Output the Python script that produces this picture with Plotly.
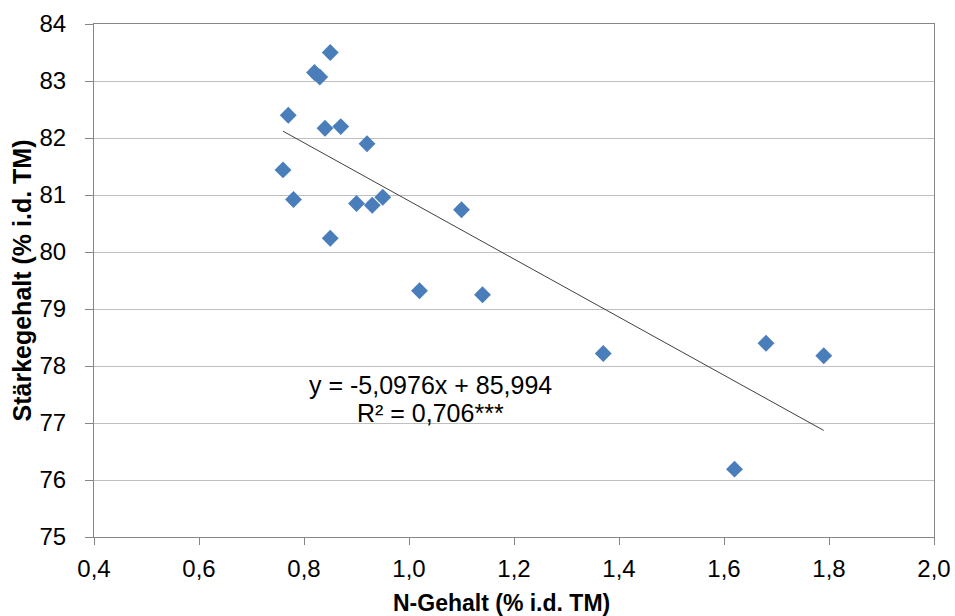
import plotly.graph_objects as go

# Data
n_gehalt = [0.85, 0.82, 0.83, 0.77, 0.84, 0.87, 0.92, 0.76, 0.78, 0.90,
            0.93, 0.95, 0.85, 1.10, 1.02, 1.14, 1.37, 1.68, 1.79, 1.62]
staerke = [83.50, 83.15, 83.07, 82.40, 82.17, 82.20, 81.90, 81.44, 80.92, 80.85,
           80.82, 80.96, 80.24, 80.74, 79.32, 79.25, 78.22, 78.40, 78.18, 76.19]

slope = -5.0976
intercept = 85.994
eq_text = "y = -5,0976x + 85,994"
r2_text = "R² = 0,706***"
x_title = "N-Gehalt (% i.d. TM)"
y_title = "Stärkegehalt (% i.d. TM)"

x_ticks = [0.4, 0.6, 0.8, 1.0, 1.2, 1.4, 1.6, 1.8, 2.0]
x_tick_labels = ["0,4", "0,6", "0,8", "1,0", "1,2", "1,4", "1,6", "1,8", "2,0"]
y_ticks = [75, 76, 77, 78, 79, 80, 81, 82, 83, 84]

x_min, x_max = min(n_gehalt), max(n_gehalt)
trend_x = [x_min, x_max]
trend_y = [slope * v + intercept for v in trend_x]

font_family = "Liberation Sans, Arial, sans-serif"

fig = go.Figure()
fig.add_trace(go.Scatter(
    x=trend_x, y=trend_y, mode="lines",
    line=dict(color="#404040", width=1), hoverinfo="skip", showlegend=False))
fig.add_trace(go.Scatter(
    x=n_gehalt, y=staerke, mode="markers",
    marker=dict(symbol="diamond", size=13, color="#4A7EBB"),
    showlegend=False))

fig.add_annotation(x=1.04, y=77.67, text=eq_text, showarrow=False,
                   font=dict(size=25, color="#000000", family=font_family),
                   xanchor="center", yanchor="middle")
fig.add_annotation(x=1.04, y=77.18, text=r2_text, showarrow=False,
                   font=dict(size=25, color="#000000", family=font_family),
                   xanchor="center", yanchor="middle")

# axis titles
fig.add_annotation(xref="paper", yref="paper", x=(501 - 94) / 840, y=-(603 - 537) / 513,
                   text="<b>" + x_title + "</b>", showarrow=False,
                   font=dict(size=23, color="#000000", family=font_family),
                   xanchor="center", yanchor="middle")
fig.add_annotation(xref="paper", yref="paper", x=(21 - 94) / 840, y=0.5,
                   text="<b>" + y_title + "</b>", showarrow=False, textangle=-90,
                   font=dict(size=25, color="#000000", family=font_family),
                   xanchor="center", yanchor="middle")

fig.update_layout(
    width=955, height=616,
    margin=dict(l=94, r=21, t=24, b=79, autoexpand=False),
    paper_bgcolor="white", plot_bgcolor="white",
    font=dict(family=font_family, size=24, color="#000000"),
    xaxis=dict(
        range=[0.4, 2.0], tickvals=x_ticks, ticktext=x_tick_labels,
        showgrid=False, zeroline=False, automargin=False,
        showline=True, linecolor="#868686", linewidth=1, mirror=True,
        ticks="outside", ticklen=7, tickcolor="#868686",
        tickfont=dict(size=24), ticklabelstandoff=3,
    ),
    yaxis=dict(
        range=[75, 84], tickvals=y_ticks,
        showgrid=True, gridcolor="#BFBFBF", gridwidth=1, zeroline=False,
        automargin=False,
        showline=True, linecolor="#868686", linewidth=1, mirror=True,
        ticks="outside", ticklen=8, tickcolor="#868686",
        tickfont=dict(size=24), ticklabelstandoff=14,
    ),
)

fig.write_html("out.html")
